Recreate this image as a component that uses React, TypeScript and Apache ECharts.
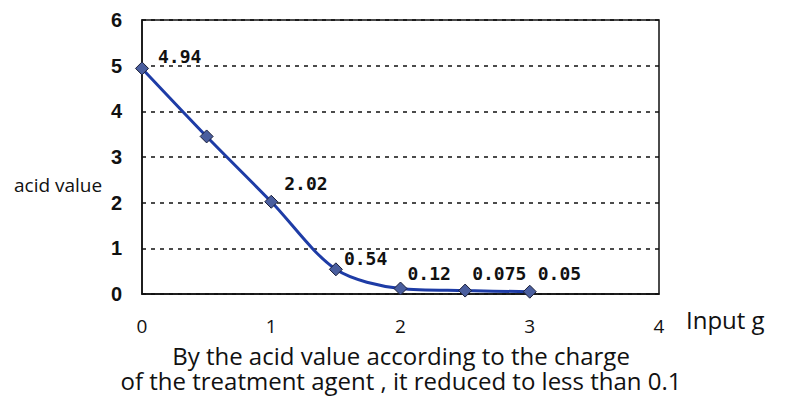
import React, { useEffect, useRef } from "react";
import * as echarts from "echarts";

// ---- data ----
const inputG = [0, 0.5, 1, 1.5, 2, 2.5, 3];
const acidValues = [4.94, 3.45, 2.02, 0.54, 0.12, 0.075, 0.05];
const labeledPoints = [true, false, true, true, true, true, true];
const yTicks = [0, 1, 2, 3, 4, 5, 6];
const xTicks = [0, 1, 2, 3, 4];
const yAxisTitle = "acid value";
const xAxisTitle = "Input g";
const captionLines = [
  "By the acid value according to the charge",
  "of the treatment agent , it reduced to less than 0.1",
];

// ---- layout / style ----
const LABEL_OFFSETS: (number[] | null)[] = [[9, -12], null, [6, -18], [1, -11], [0, -15], [0, -17], [1, -18]];
const LINE_COLOR = "#1e3ca6";
const MARKER_COLOR = "#4a5e9e";

export default function App() {
  const ref = useRef<HTMLDivElement>(null);

  useEffect(() => {
    document.body.style.margin = "0";
    if (!ref.current) return;
    const chart = echarts.init(ref.current, null, { renderer: "svg" });

    const seriesData = inputG.map((x, i) => {
      const off = LABEL_OFFSETS[i];
      return {
        value: [x, acidValues[i]],
        label: labeledPoints[i]
          ? { show: true, offset: off || [0, 0] }
          : { show: false },
      };
    });

    chart.setOption({
      animation: false,
      backgroundColor: "#ffffff",
      grid: {
        left: 142,
        right: 141,
        top: 20,
        bottom: 103,
        show: true,
        borderColor: "#111",
        borderWidth: 1.5,
      },
      xAxis: {
        type: "value",
        min: xTicks[0],
        max: xTicks[xTicks.length - 1],
        interval: 1,
        axisLine: { show: true, lineStyle: { color: "#111", width: 1.5 } },
        axisTick: { show: false },
        splitLine: { show: false },
        axisLabel: {
          margin: 22,
          color: "#111",
          fontFamily: "Open Sans",
          fontSize: 19,
          formatter: (v: number) => String(v),
        },
      },
      yAxis: {
        type: "value",
        min: yTicks[0],
        max: yTicks[yTicks.length - 1],
        interval: 1,
        axisLine: { show: true, lineStyle: { color: "#111", width: 1.5 } },
        axisTick: { show: false },
        splitLine: {
          show: true,
          lineStyle: { color: "#111", width: 1.5, type: [4, 5] },
        },
        axisLabel: {
          margin: 20,
          color: "#111",
          fontFamily: "Liberation Sans",
          fontWeight: "bold",
          fontSize: 20,
          formatter: (v: number) => String(v),
        },
      },
      series: [
        {
          type: "line",
          data: seriesData,
          smooth: 0.3,
          symbol: "diamond",
          symbolSize: 13,
          lineStyle: { color: LINE_COLOR, width: 3 },
          itemStyle: { color: MARKER_COLOR, borderColor: "#1a1f3a", borderWidth: 1 },
          label: {
            position: "right",
            distance: 0,
            align: "left",
            verticalAlign: "middle",
            color: "#111",
            fontFamily: "DejaVu Sans Mono",
            fontWeight: "bold",
            fontSize: 18,
            formatter: (p: any) => String(p.value[1]),
          },
        },
      ],
      graphic: [
        {
          type: "text",
          left: 14,
          top: 175,
          style: {
            text: yAxisTitle,
            fill: "#111",
            font: "19px 'Open Sans'",
          },
        },
        {
          type: "text",
          left: 686,
          top: 307,
          style: {
            text: xAxisTitle,
            fill: "#111",
            font: "24px 'Open Sans'",
          },
        },
        {
          type: "text",
          x: 401,
          y: 368,
          style: {
            text: captionLines.join("\n"),
            fill: "#111",
            font: "24px 'Open Sans'",
            lineHeight: 25,
            textAlign: "center",
            textVerticalAlign: "middle",
          },
        },
      ],
    });

    return () => chart.dispose();
  }, []);

  return <div ref={ref} style={{ width: 800, height: 397 }} />;
}
